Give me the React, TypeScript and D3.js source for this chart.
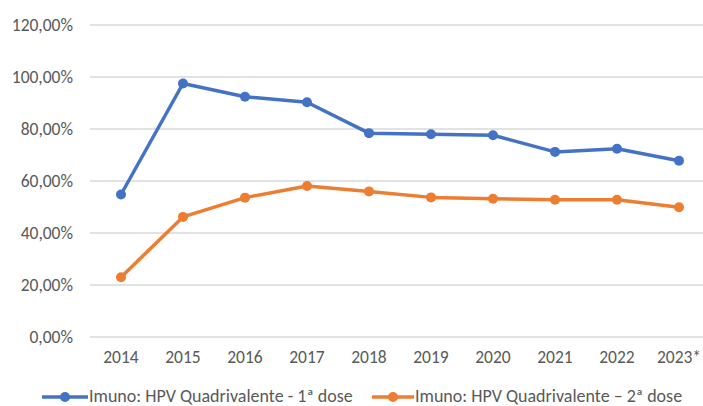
import React, { useEffect, useRef } from "react";
import * as d3 from "d3";

// anos e cobertura (%)
const years = ["2014", "2015", "2016", "2017", "2018", "2019", "2020", "2021", "2022", "2023*"];
const dose1 = [54.8, 97.5, 92.4, 90.3, 78.4, 78.0, 77.6, 71.2, 72.4, 67.8];
const dose2 = [23.0, 46.2, 53.6, 58.1, 56.0, 53.7, 53.2, 52.8, 52.8, 49.9];
const yTicks = [0, 20, 40, 60, 80, 100, 120];
const seriesNames = ["Imuno: HPV Quadrivalente - 1ª dose", "Imuno: HPV Quadrivalente – 2ª dose"];
const colors = ["#4472C4", "#ED7D31"];

const W = 703, H = 406;
const font = "Carlito, Calibri, 'Open Sans', sans-serif";

export default function App() {
  const ref = useRef<SVGSVGElement>(null);

  useEffect(() => {
    const svg = d3.select(ref.current);
    svg.selectAll("*").remove();

    const x = d3.scaleBand().domain(years).range([90, 710]);
    const y = d3.scaleLinear().domain([0, 120]).range([337, 25]);
    const cx = (d: string) => (x(d) as number) + x.bandwidth() / 2;

    // grid lines
    svg.append("g").selectAll("line")
      .data(yTicks).enter().append("line")
      .attr("x1", 90).attr("x2", 710)
      .attr("y1", d => y(d)).attr("y2", d => y(d))
      .style("stroke", "#d9d9d9").style("stroke-width", 1.5);

    // y labels
    svg.append("g").selectAll("text")
      .data(yTicks).enter().append("text")
      .attr("x", 73).attr("y", d => y(d) + 6)
      .attr("text-anchor", "end")
      .style("font-family", font).style("font-size", "17.5px").style("fill", "#595959")
      .text(d => d.toFixed(2).replace(".", ",") + "%");

    // x labels
    svg.append("g").selectAll("text")
      .data(years).enter().append("text")
      .attr("x", d => cx(d)).attr("y", 363)
      .attr("text-anchor", "middle")
      .style("font-family", font).style("font-size", "17.5px").style("fill", "#595959")
      .text(d => d);

    const line = d3.line<number>()
      .x((_, i) => cx(years[i]))
      .y(d => y(d));

    [dose1, dose2].forEach((vals, k) => {
      const g = svg.append("g");
      g.append("path")
        .datum(vals)
        .attr("d", line)
        .style("fill", "none")
        .style("stroke", colors[k])
        .style("stroke-width", 3.5)
        .style("stroke-linejoin", "round");
      g.selectAll("circle")
        .data(vals).enter().append("circle")
        .attr("cx", (_, i) => cx(years[i]))
        .attr("cy", d => y(d))
        .attr("r", 5)
        .style("fill", colors[k]);
    });

    // legend
    const legend = [
      { x1: 42, x2: 88, tx: 89 },
      { x1: 372, x2: 414, tx: 415 },
    ];
    legend.forEach((l, k) => {
      const g = svg.append("g");
      g.append("line")
        .attr("x1", l.x1).attr("x2", l.x2).attr("y1", 397).attr("y2", 397)
        .style("stroke", colors[k]).style("stroke-width", 3.5);
      g.append("circle")
        .attr("cx", (l.x1 + l.x2) / 2).attr("cy", 397).attr("r", 5)
        .style("fill", colors[k]);
      g.append("text")
        .attr("x", l.tx).attr("y", 401.5)
        .style("font-family", font).style("font-size", "18px").style("fill", "#595959")
        .text(seriesNames[k]);
    });
  }, []);

  return (
    <svg
      ref={ref}
      width={W}
      height={H}
      style={{ position: "absolute", left: 0, top: 0, background: "#fff" }}
    />
  );
}
